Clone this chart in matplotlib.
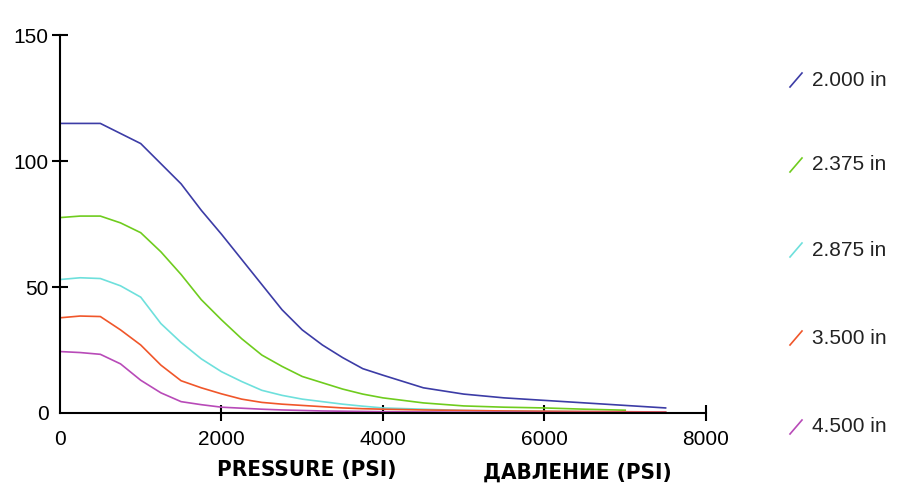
import matplotlib.pyplot as plt
from matplotlib.lines import Line2D

# pressure (psi) sample points
pressure = [0, 250, 500, 750, 1000, 1250, 1500, 1750, 2000, 2250, 2500, 2750,
            3000, 3250, 3500, 3750, 4000, 4500, 5000, 5500, 6000, 6500, 7000, 7500]

od_2000 = [115, 115, 115, 111, 107, 99, 91, 80.5, 71, 61, 51, 41,
           33, 27, 22, 17.6, 15, 10, 7.5, 6, 5, 4, 3, 2]
od_2375 = [77.6, 78.2, 78.2, 75.5, 71.6, 64, 55, 45, 37, 29.5, 23, 18.5,
           14.5, 12, 9.5, 7.5, 6, 4, 2.8, 2.3, 2, 1.5, 1.1, None]
od_2875 = [53, 53.7, 53.4, 50.5, 46, 35.5, 28, 21.5, 16.4, 12.5, 9, 7,
           5.5, 4.5, 3.5, 2.7, 2, 1.5, 1, 0.8, 0.6, 0.5, 0.4, 0.3]
od_3500 = [37.8, 38.5, 38.3, 33, 27, 19, 12.8, 10, 7.6, 5.5, 4.2, 3.5,
           3, 2.5, 2, 1.7, 1.5, 1.2, 1, 0.8, 0.7, 0.6, 0.5, 0.4]
od_4500 = [24.4, 24, 23.3, 19.5, 13, 8, 4.5, 3.3, 2.3, 1.9, 1.5, 1.2,
           1, 0.8, 0.7, 0.6, 0.5, 0.4, 0.3, 0.3, 0.2, 0.2, 0.2, 0.2]

labels = ["2.000 in", "2.375 in", "2.875 in", "3.500 in", "4.500 in"]
series = [od_2000, od_2375, od_2875, od_3500, od_4500]
colors = ["#3c3ca6", "#6fcc1e", "#6ee0dc", "#f0562a", "#b84ab8"]

plt.rcParams['font.family'] = ['Liberation Sans', 'DejaVu Sans']

fig = plt.figure(figsize=(8.99, 4.95), dpi=100)
ax = fig.add_axes([0.0667, 0.1657, 0.7186, 0.763])

for vals, c in zip(series, colors):
    xs = [p for p, v in zip(pressure, vals) if v is not None]
    ys = [v for v in vals if v is not None]
    ax.plot(xs, ys, color=c, linewidth=1.2)

ax.set_xlim(0, 8000)
ax.set_ylim(0, 150)
ax.set_xticks([0, 2000, 4000, 6000, 8000])
ax.set_yticks([0, 50, 100, 150])

for side in ['top', 'right']:
    ax.spines[side].set_visible(False)
for side in ['left', 'bottom']:
    ax.spines[side].set_linewidth(1.5)

ax.tick_params(direction='inout', length=12, width=1.5, labelsize=15, pad=6)
ax.tick_params(axis='y', pad=2)
ax.xaxis.get_major_ticks()[0].tick1line.set_visible(False)
ax.yaxis.get_major_ticks()[0].tick1line.set_visible(False)

# axis captions
cap = dict(fontsize=16, fontweight='bold', fontstretch='condensed',
           family=['DejaVu Sans'], ha='center', va='center')
fig.text(0.341, 0.05, "PRESSURE (PSI)", **cap)
fig.text(0.642, 0.045, "ДАВЛЕНИЕ (PSI)", **cap)

# legend on the right: small slash + label
legend_y = [80, 165, 250, 338, 427]
for lab, c, yp in zip(labels, colors, legend_y):
    yf = 1 - yp / 495
    fig.add_artist(Line2D([790 / 899, 802 / 899], [yf - 7 / 495, yf + 7 / 495],
                          transform=fig.transFigure, color=c, linewidth=1.2))
    fig.text(812 / 899, yf, lab, fontsize=15, va='center', ha='left', color='#222222')

fig.savefig("out.png", dpi=100)
